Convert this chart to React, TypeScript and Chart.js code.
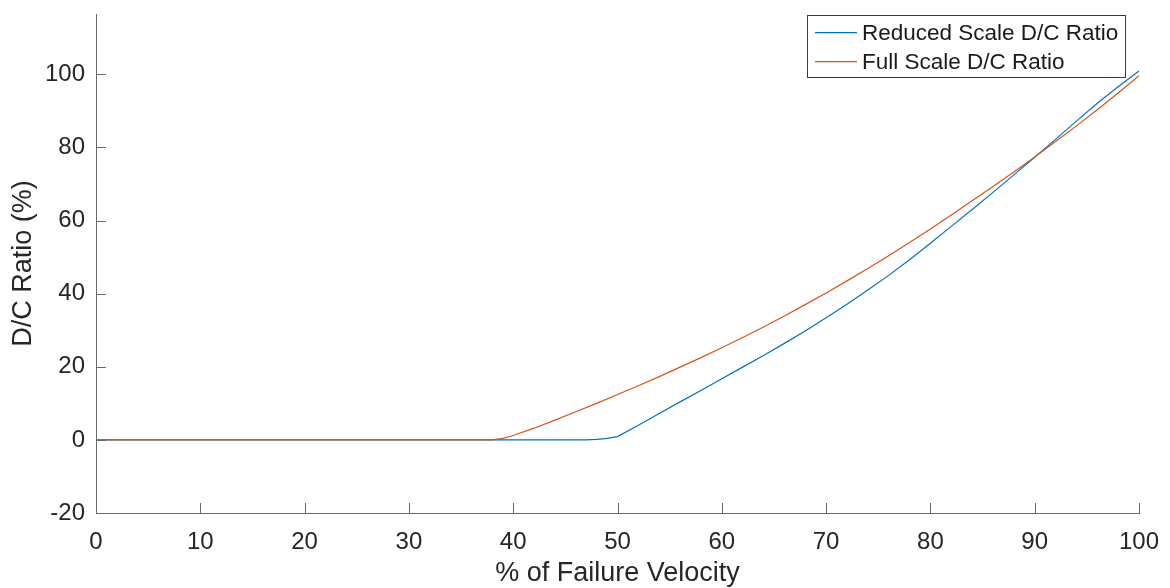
import React, { useEffect, useRef } from "react";
import { Chart, registerables } from "chart.js";

Chart.register(...registerables);

// ---- Data ----
const xTicks = [0, 10, 20, 30, 40, 50, 60, 70, 80, 90, 100];
const yTicks = [-20, 0, 20, 40, 60, 80, 100];

const seriesLabels = ["Reduced Scale D/C Ratio", "Full Scale D/C Ratio"];

const reducedX = [0, 47, 48, 49, 50, 52, 54, 56, 58, 60, 62, 64, 66, 68, 70, 72, 74, 76, 78, 80, 82, 84, 86, 88, 90, 92, 94, 96, 98, 100];
const reducedY = [0, 0, 0.15, 0.4, 0.9, 4.0, 7.2, 10.4, 13.5, 16.7, 19.9, 23.1, 26.4, 29.8, 33.4, 37.1, 41.0, 45.0, 49.3, 53.8, 58.4, 63.0, 67.7, 72.5, 77.3, 82.2, 87.2, 92.1, 96.6, 100.9];

const fullX = [0, 38, 39, 40, 42, 44, 46, 48, 50, 52, 54, 56, 58, 60, 62, 64, 66, 68, 70, 72, 74, 76, 78, 80, 82, 84, 86, 88, 90, 92, 94, 96, 98, 100];
const fullY = [0, 0, 0.4, 1.2, 3.2, 5.4, 7.7, 10.0, 12.4, 14.8, 17.3, 19.9, 22.5, 25.2, 28.0, 30.9, 33.9, 37.0, 40.2, 43.5, 46.9, 50.4, 54.0, 57.7, 61.5, 65.4, 69.3, 73.3, 77.4, 81.6, 85.9, 90.3, 94.9, 99.6];

const xRange = [0, 100];
const yRange = [-20, 116.5];

// ---- Styles ----
const FONT = "'Liberation Sans', Arial, Helvetica, sans-serif";
const TEXT = "#262626";
const AXIS = "#6a6a6a";
const BLUE = "#0072BD";
const ORANGE = "#D95319";

const matlabPlugin = {
  id: "matlabAxes",
  afterDraw(chart: any) {
    const { ctx, chartArea, scales } = chart;
    const xs = scales.x;
    const ys = scales.y;
    ctx.save();
    // inward tick marks
    ctx.strokeStyle = AXIS;
    ctx.lineWidth = 1;
    ctx.beginPath();
    xs.ticks.forEach((t: any) => {
      const px = Math.round(xs.getPixelForValue(t.value)) + 0.5;
      ctx.moveTo(px, chartArea.bottom);
      ctx.lineTo(px, chartArea.bottom - 10);
    });
    ys.ticks.forEach((t: any) => {
      const py = Math.round(ys.getPixelForValue(t.value)) + 0.5;
      ctx.moveTo(chartArea.left, py);
      ctx.lineTo(chartArea.left + 10, py);
    });
    ctx.stroke();

    // legend box
    const bx = 807.5, by = 15.5, bw = 318, bh = 62;
    ctx.fillStyle = "#ffffff";
    ctx.fillRect(bx, by, bw, bh);
    ctx.strokeStyle = "#3a3a3a";
    ctx.lineWidth = 1;
    ctx.strokeRect(bx, by, bw, bh);
    const rows = [32.7, 61.7];
    chart.data.datasets.forEach((ds: any, i: number) => {
      const y = rows[i];
      ctx.strokeStyle = ds.borderColor;
      ctx.lineWidth = 1.2;
      ctx.beginPath();
      ctx.moveTo(815, y);
      ctx.lineTo(857, y);
      ctx.stroke();
      ctx.fillStyle = "#1a1a1a";
      ctx.font = `22.5px ${FONT}`;
      ctx.textBaseline = "middle";
      ctx.textAlign = "left";
      ctx.fillText(ds.label, 862, y + 1);
    });
    ctx.restore();
  },
};

export default function App() {
  const canvasRef = useRef<HTMLCanvasElement | null>(null);

  useEffect(() => {
    const canvas = canvasRef.current;
    if (!canvas) return;
    const chart = new Chart(canvas, {
      type: "line",
      data: {
        datasets: [
          {
            label: seriesLabels[0],
            data: reducedX.map((x, i) => ({ x, y: reducedY[i] })),
            borderColor: BLUE,
            backgroundColor: BLUE,
            borderWidth: 1.2,
            pointRadius: 0,
            tension: 0,
            fill: false,
            order: 1,
          },
          {
            label: seriesLabels[1],
            data: fullX.map((x, i) => ({ x, y: fullY[i] })),
            borderColor: ORANGE,
            backgroundColor: ORANGE,
            borderWidth: 1.2,
            pointRadius: 0,
            tension: 0,
            fill: false,
            order: 0,
          },
        ],
      },
      options: {
        animation: false,
        responsive: false,
        devicePixelRatio: 1,
        layout: { padding: { left: 0, top: 14, right: 31, bottom: 0 } },
        plugins: {
          legend: { display: false },
          tooltip: { enabled: false },
        },
        scales: {
          x: {
            type: "linear",
            min: xRange[0],
            max: xRange[1],
            afterBuildTicks: (s: any) => {
              s.ticks = xTicks.map((v) => ({ value: v }));
            },
            afterFit: (s: any) => {
              s.height = 75;
              s.paddingLeft = 0;
              s.paddingRight = 0;
            },
            grid: { display: false, drawTicks: false },
            border: { display: true, color: AXIS, width: 1 },
            ticks: {
              padding: 15,
              color: TEXT,
              font: { family: FONT, size: 24 },
              maxRotation: 0,
              autoSkip: false,
            },
            title: {
              display: true,
              text: "% of Failure Velocity",
              color: TEXT,
              font: { family: FONT, size: 27, lineHeight: 1.1 },
              padding: { top: 0, bottom: 0 },
            },
          },
          y: {
            type: "linear",
            min: yRange[0],
            max: yRange[1],
            afterBuildTicks: (s: any) => {
              s.ticks = yTicks.map((v) => ({ value: v }));
            },
            afterFit: (s: any) => {
              s.width = 96;
              s.paddingTop = 0;
              s.paddingBottom = 0;
            },
            grid: { display: false, drawTicks: false },
            border: { display: true, color: AXIS, width: 1 },
            ticks: {
              padding: 11,
              color: TEXT,
              font: { family: FONT, size: 24 },
              autoSkip: false,
            },
            title: {
              display: true,
              text: "D/C Ratio (%)",
              color: TEXT,
              font: { family: FONT, size: 27, lineHeight: 1.1 },
              padding: { top: 9, bottom: 0 },
            },
          },
        },
      } as any,
      plugins: [matlabPlugin],
    });
    return () => chart.destroy();
  }, []);

  return (
    <div style={{ position: "absolute", left: 0, top: 0, width: 1170, height: 588, background: "#fff" }}>
      <canvas ref={canvasRef} width={1170} height={588} style={{ display: "block", width: 1170, height: 588 }} />
    </div>
  );
}
